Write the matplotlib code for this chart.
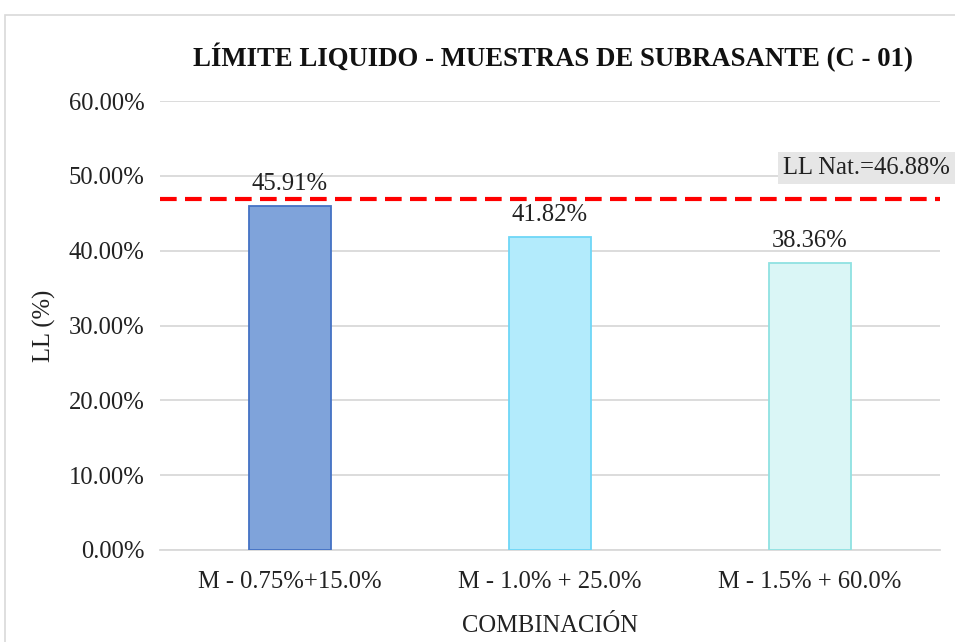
import matplotlib
matplotlib.use("Agg")
import matplotlib.pyplot as plt
from matplotlib.patches import Rectangle
from matplotlib.ticker import MultipleLocator, FuncFormatter

categories = ["M - 0.75%+15.0%", "M - 1.0% + 25.0%", "M - 1.5% + 60.0%"]
ll_values = [45.91, 41.82, 38.36]
ll_natural = 46.88
bar_colors = ["#7FA3DA", "#B3EBFC", "#DAF6F6"]
edge_colors = ["#4472C4", "#6ED7F7", "#8FE2E2"]

plt.rcParams["font.family"] = ["Liberation Serif", "DejaVu Serif"]
FS = 17.7

fig = plt.figure(figsize=(9.55, 6.42), dpi=100)
ax = fig.add_axes([160 / 955, 1 - 550 / 642, 780 / 955, 449 / 642])

# chart frame
fig.patches.append(Rectangle((5 / 955, -0.1), 1.1, 1 - 15 / 642 + 0.1,
                             transform=fig.transFigure, fill=False,
                             edgecolor="#d9d9d9", linewidth=1.2))

x = range(len(categories))
ax.bar(x, ll_values, width=0.315, color=bar_colors, edgecolor=edge_colors,
       linewidth=1.3, zorder=3)
for xi, v in zip(x, ll_values):
    ax.text(xi, v + 1.5, f"{v:.2f}%", ha="center", va="bottom", fontsize=FS,
            color="#222222", zorder=4)

ax.axhline(ll_natural, color="#FF0000", linestyle=(0, (4, 2)), linewidth=3, zorder=4)
fig.text(950 / 955, 1 - 168 / 642, f"LL Nat.={ll_natural:.2f}%",
         ha="right", va="center", fontsize=FS, color="#222222",
         bbox=dict(boxstyle="square,pad=0.22", facecolor="#E6E6E6", edgecolor="none"),
         zorder=5)

ax.set_xlim(-0.5, 2.5)
ax.set_ylim(0, 60)
ax.yaxis.set_major_locator(MultipleLocator(10))
ax.yaxis.set_major_formatter(FuncFormatter(lambda v, p: f"{v:.2f}%"))
ax.grid(axis="y", color="#d9d9d9", linewidth=1.3, zorder=0)
ax.set_axisbelow(True)
for s in ["top", "right", "left"]:
    ax.spines[s].set_visible(False)
ax.spines["bottom"].set_color("#d9d9d9")
ax.spines["bottom"].set_linewidth(1.3)
ax.tick_params(axis="both", length=0, labelsize=FS, colors="#222222")
ax.tick_params(axis="y", pad=11)
ax.tick_params(axis="x", pad=15)
ax.set_xticks(list(x))
ax.set_xticklabels(categories)

ax.set_ylabel("LL (%)", fontsize=FS, color="#222222", labelpad=9)
ax.set_xlabel("COMBINACIÓN", fontsize=FS, color="#222222", labelpad=16)

fig.text(553 / 955, 1 - 57 / 642, "LÍMITE LIQUIDO - MUESTRAS DE SUBRASANTE (C - 01)",
         ha="center", va="center", fontsize=19.3, fontweight="bold", color="#111111")

fig.savefig("out.png", dpi=100)
